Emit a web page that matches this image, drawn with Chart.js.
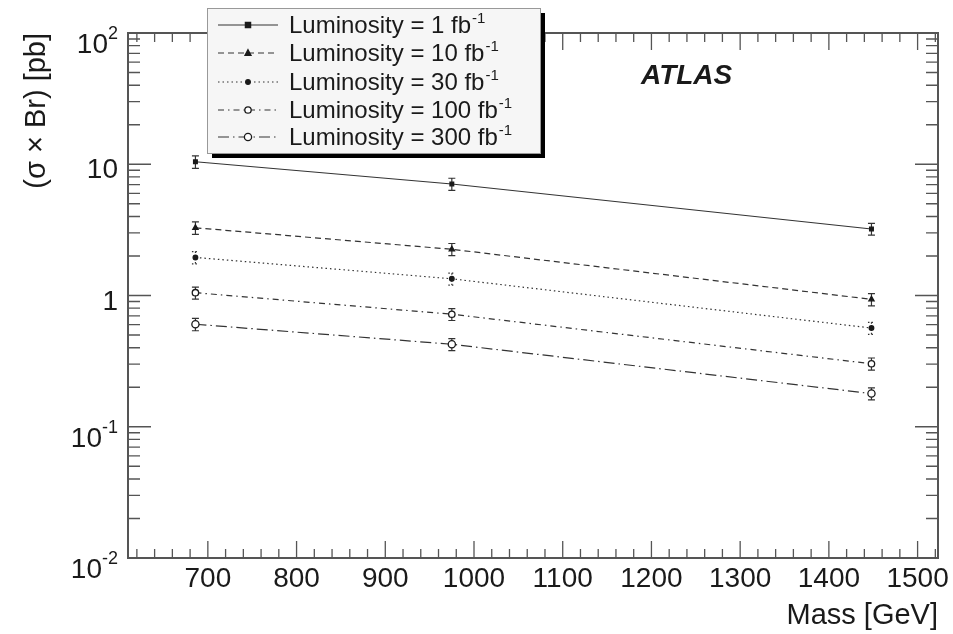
<!DOCTYPE html>
<html>
<head>
<meta charset="utf-8">
<script src="https://cdn.jsdelivr.net/npm/chart.js@4"></script>
<style>
  html, body { margin: 0; padding: 0; background: #fff; }
  #wrap { width: 953px; height: 634px; position: relative; }
</style>
</head>
<body>
<div id="wrap"><canvas id="xsecChart"></canvas></div>
<script>
// ————— Datos —————
const MASSES    = [686, 975, 1448];
const XSEC_1    = [10.45, 7.07, 3.21];
const XSEC_10   = [3.28, 2.25, 0.935];
const XSEC_30   = [1.95, 1.34, 0.565];
const XSEC_100  = [1.05, 0.72, 0.302];
const XSEC_300  = [0.604, 0.425, 0.179];
const ERR_1     = [1.15, 0.75, 0.33];
const ERR_10    = [0.36, 0.24, 0.10];
const ERR_30    = [0.21, 0.14, 0.06];
const ERR_100   = [0.11, 0.075, 0.032];
const ERR_300   = [0.065, 0.045, 0.019];
const LUMIS     = ['1', '10', '30', '100', '300'];
const X_TICKS   = [700, 800, 900, 1000, 1100, 1200, 1300, 1400, 1500];
const Y_TICKS   = [0.01, 0.1, 1, 10, 100];
const Y_BASES   = ['10', '10', '1', '10', '10'];
const Y_EXPS    = ['-2', '-1', '', '', '2'];

const SERIES = [XSEC_1, XSEC_10, XSEC_30, XSEC_100, XSEC_300];
const ERRORS = [ERR_1, ERR_10, ERR_30, ERR_100, ERR_300];

// ————— Estilos —————
const INK    = '#1a1a1a';
const LINE   = '#333';
const FRAME  = '#555';
const FONT   = '"Liberation Sans", Arial, Helvetica, sans-serif';
const DASHES = [[], [6, 4], [1.5, 3], [6, 4, 1.5, 4], [11, 4, 1.5, 4]];
const MARKS  = [
  { style: 'rect',     r: 2.6, fill: INK },
  { style: 'triangle', r: 3,   fill: INK },
  { style: 'circle',   r: 2.3, fill: INK },
  { style: 'circle',   r: 3.2, fill: '#fff' },
  { style: 'circle',   r: 3.6, fill: '#fff' }
];

function drawMark(ctx, m, x, y) {
  ctx.save();
  ctx.setLineDash([]);
  ctx.lineWidth = 1.3;
  ctx.strokeStyle = INK;
  ctx.fillStyle = m.fill;
  ctx.beginPath();
  if (m.style === 'rect') {
    ctx.rect(x - m.r, y - m.r, m.r * 2, m.r * 2);
  } else if (m.style === 'triangle') {
    ctx.moveTo(x, y - m.r * 1.1);
    ctx.lineTo(x + m.r, y + m.r * 0.8);
    ctx.lineTo(x - m.r, y + m.r * 0.8);
    ctx.closePath();
  } else {
    ctx.arc(x, y, m.r, 0, Math.PI * 2);
  }
  ctx.fill();
  ctx.stroke();
  ctx.restore();
}

// ————— Plugin: barras de error, marco estilo ROOT, leyenda —————
const rootStyle = {
  id: 'rootStyle',
  beforeDatasetsDraw(chart) {
    const ctx = chart.ctx, ys = chart.scales.y;
    ctx.save();
    ctx.strokeStyle = LINE;
    ctx.lineWidth = 1.2;
    chart.data.datasets.forEach((ds, i) => {
      const meta = chart.getDatasetMeta(i);
      ctx.setLineDash(i === 2 ? [1.5, 2] : []);
      meta.data.forEach((pt, j) => {
        const v = ds.data[j].y, e = ERRORS[i][j];
        const yHi = ys.getPixelForValue(v + e), yLo = ys.getPixelForValue(v - e);
        ctx.beginPath();
        ctx.moveTo(pt.x, yHi); ctx.lineTo(pt.x, yLo);
        ctx.moveTo(pt.x - 3.5, yHi); ctx.lineTo(pt.x + 3.5, yHi);
        ctx.moveTo(pt.x - 3.5, yLo); ctx.lineTo(pt.x + 3.5, yLo);
        ctx.stroke();
      });
    });
    ctx.restore();
  },
  afterDraw(chart) {
    const ctx = chart.ctx, xs = chart.scales.x, ys = chart.scales.y;
    const { left: L, right: R, top: T, bottom: B } = chart.chartArea;
    ctx.save();

    // marco
    ctx.strokeStyle = FRAME;
    ctx.lineWidth = 2;
    ctx.strokeRect(L, T, R - L, B - T);

    // ticks hacia dentro
    ctx.lineWidth = 1.3;
    ctx.beginPath();
    for (let v = 620; v <= xs.max; v += 20) {
      const px = xs.getPixelForValue(v);
      const len = v % 100 === 0 ? 17 : 9;
      ctx.moveTo(px, B); ctx.lineTo(px, B - len);
      ctx.moveTo(px, T); ctx.lineTo(px, T + len);
    }
    for (let k = -2; k <= 1; k++) {
      for (let m = 1; m <= 9; m++) {
        const py = ys.getPixelForValue(m * Math.pow(10, k));
        const len = m === 1 ? 23 : 12;
        ctx.moveTo(L, py); ctx.lineTo(L + len, py);
        ctx.moveTo(R, py); ctx.lineTo(R - len, py);
      }
    }
    ctx.stroke();

    // etiquetas eje X
    ctx.fillStyle = INK;
    ctx.font = '28px ' + FONT;
    ctx.textAlign = 'center';
    ctx.textBaseline = 'alphabetic';
    X_TICKS.forEach(v => ctx.fillText(String(v), xs.getPixelForValue(v), 587));

    // etiquetas eje Y (con exponente)
    ctx.textAlign = 'right';
    Y_TICKS.forEach((v, i) => {
      const py = ys.getPixelForValue(v);
      const exp = Y_EXPS[i];
      if (!exp) {
        ctx.font = '28px ' + FONT;
        ctx.fillText(Y_BASES[i], 118, py + 14);
      } else {
        ctx.font = '18px ' + FONT;
        const ew = ctx.measureText(exp).width;
        ctx.fillText(exp, 118, py + 6);
        ctx.font = '28px ' + FONT;
        ctx.fillText(Y_BASES[i], 118 - ew, py + 20);
      }
    });

    // títulos
    ctx.font = '29px ' + FONT;
    ctx.textAlign = 'right';
    ctx.fillText('Mass [GeV]', R, 624);
    ctx.save();
    ctx.translate(45, T);
    ctx.rotate(-Math.PI / 2);
    ctx.fillText('(σ × Br) [pb]', 0, 0);
    ctx.restore();

    ctx.font = 'italic bold 28px ' + FONT;
    ctx.textAlign = 'left';
    ctx.fillText('ATLAS', 641, 84);

    // leyenda
    const bx = 207, by = 8, bw = 333, bh = 145;
    ctx.fillStyle = '#000';
    ctx.fillRect(bx + 5, by + 5, bw, bh);
    ctx.fillStyle = '#f6f6f6';
    ctx.fillRect(bx, by, bw, bh);
    ctx.strokeStyle = '#999';
    ctx.lineWidth = 1;
    ctx.strokeRect(bx + 0.5, by + 0.5, bw, bh);

    const rows = [25, 53, 82, 110, 137];
    LUMIS.forEach((lum, i) => {
      const cy = rows[i];
      ctx.strokeStyle = LINE;
      ctx.lineWidth = 1.2;
      ctx.setLineDash(DASHES[i]);
      ctx.beginPath();
      ctx.moveTo(218, cy); ctx.lineTo(278, cy);
      ctx.stroke();
      ctx.setLineDash([]);
      drawMark(ctx, MARKS[i], 248, cy);

      ctx.fillStyle = INK;
      ctx.font = '24px ' + FONT;
      ctx.textAlign = 'left';
      const txt = 'Luminosity = ' + lum + ' fb';
      ctx.fillText(txt, 289, cy + 8);
      const w = ctx.measureText(txt).width;
      ctx.font = '15px ' + FONT;
      ctx.fillText('-1', 289 + w + 1, cy - 2);
    });

    ctx.restore();
  }
};

// ————— Gráfica —————
const datasets = SERIES.map((vals, i) => ({
  label: 'Luminosity = ' + LUMIS[i] + ' fb-1',
  data: vals.map((v, j) => ({ x: MASSES[j], y: v })),
  borderColor: LINE,
  borderWidth: 1.2,
  borderDash: DASHES[i],
  tension: 0,
  fill: false,
  pointStyle: MARKS[i].style,
  pointRadius: MARKS[i].r,
  pointBackgroundColor: MARKS[i].fill,
  pointBorderColor: INK,
  pointBorderWidth: 1.3
}));

new Chart(document.getElementById('xsecChart'), {
  type: 'line',
  data: { datasets },
  options: {
    responsive: true,
    maintainAspectRatio: false,
    animation: false,
    layout: { padding: { left: 128, right: 15, top: 33, bottom: 76 } },
    plugins: { legend: { display: false }, tooltip: { enabled: false } },
    scales: {
      x: { type: 'linear', min: 610, max: 1523, display: false },
      y: { type: 'logarithmic', min: 0.01, max: 100, display: false }
    }
  },
  plugins: [rootStyle]
});
</script>
</body>
</html>
